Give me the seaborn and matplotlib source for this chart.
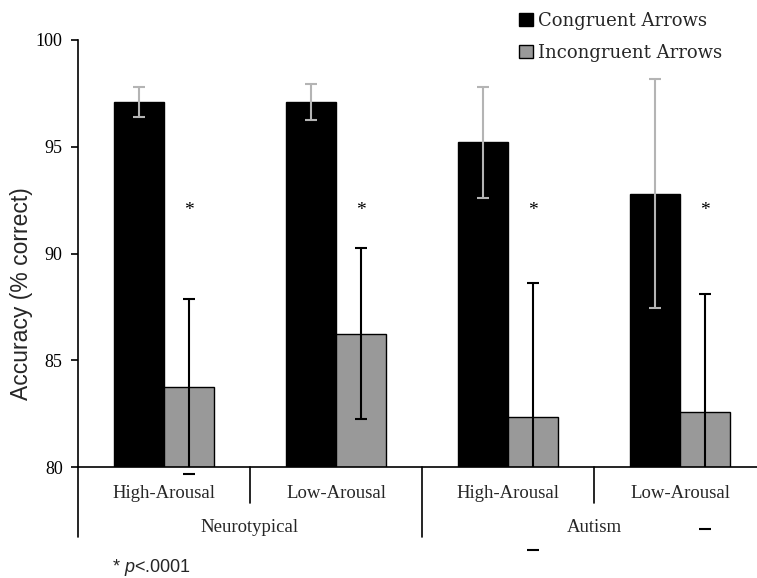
"""Accuracy on the arrow flanker task by group and arousal condition."""

import matplotlib

matplotlib.use("Agg")

import matplotlib.pyplot as plt
import matplotlib.transforms as mtransforms
import pandas as pd
import seaborn as sns
from matplotlib.patches import Patch

# --- data ---
groups = ["Neurotypical", "Neurotypical", "Autism", "Autism"]
arousal = ["High-Arousal", "Low-Arousal", "High-Arousal", "Low-Arousal"]
conditions = ["Congruent Arrows", "Incongruent Arrows"]

congruent_mean = [97.1, 97.1, 95.2, 92.8]
congruent_err = [0.7, 0.85, 2.6, 5.35]
incongruent_mean = [83.75, 86.25, 82.35, 82.6]
incongruent_err = [4.1, 4.0, 6.25, 5.5]

star_level = [92.0, 92.0, 92.0, 92.0]
y_ticks = [80, 85, 90, 95, 100]

bar_colors = ["#000000", "#999999"]
err_colors = ["#b4b4b4", "#000000"]

SERIF = "Liberation Serif"
SANS = "Liberation Sans"


def build_frame() -> pd.DataFrame:
    cells = [f"{g}\n{a}" for g, a in zip(groups, arousal)]
    rows = []
    for cond, means in zip(conditions, [congruent_mean, incongruent_mean]):
        for cell, m in zip(cells, means):
            rows.append({"cell": cell, "arrows": cond, "accuracy": m})
    return pd.DataFrame(rows), cells


def main() -> None:
    sns.set_theme(style="white")
    plt.rcParams.update(
        {
            "font.family": [SERIF, "DejaVu Serif"],
            "mathtext.fontset": "custom",
            "mathtext.it": f"{SANS}:italic",
            "mathtext.rm": SANS,
        }
    )

    df, cells = build_frame()

    fig = plt.figure(figsize=(7.57, 5.78), dpi=100)
    ax = fig.add_axes([0.1030, 0.1920, 0.9089, 0.7388])

    sns.barplot(
        data=df, x="cell", y="accuracy", hue="arrows",
        order=cells, hue_order=conditions, palette=bar_colors,
        width=0.58, errorbar=None, saturation=1,
        edgecolor="black", linewidth=1.0, ax=ax,
    )
    ax.get_legend().remove()

    # error bars on each bar; lines clipped at the axis, caps left visible
    for container, means, errs, ecol in zip(
        ax.containers, [congruent_mean, incongruent_mean],
        [congruent_err, incongruent_err], err_colors,
    ):
        xs = [p.get_x() + p.get_width() / 2 for p in container.patches]
        _, caps, _ = ax.errorbar(
            xs, means, yerr=errs, fmt="none", ecolor=ecol,
            elinewidth=1.5, capsize=4.5, capthick=1.5, zorder=4,
        )
        for cap in caps:
            cap.set_clip_on(False)

    # significance stars above the incongruent bars
    for p, lvl in zip(ax.containers[1].patches, star_level):
        ax.text(p.get_x() + p.get_width() / 2, lvl, "*", ha="center",
                va="center", fontsize=14, color="black")

    ax.set_ylim(y_ticks[0], y_ticks[-1])
    ax.set_xlim(-0.5, len(cells) - 0.5)
    ax.set_yticks(y_ticks)
    ax.set_yticklabels([str(t) for t in y_ticks], fontsize=13)
    ax.set_xticks([])
    ax.set_xlabel("")
    ax.set_ylabel("")
    ax.tick_params(axis="y", direction="out", length=5, width=1.2,
                   pad=6, left=True, colors="black")

    sns.despine(ax=ax, top=True, right=True)
    for side in ["left", "bottom"]:
        ax.spines[side].set_color("black")
        ax.spines[side].set_linewidth(1.2)

    # two-level category axis, Excel style
    trans = mtransforms.blended_transform_factory(ax.transData, ax.transAxes)
    for i, lab in enumerate(arousal):
        ax.text(i, -0.062, lab, transform=trans, ha="center", va="center",
                fontsize=13.5)
    for i in range(len(cells) + 1):
        x = i - 0.5
        if x >= len(cells) - 0.5:
            continue
        depth = -0.164 if i % 2 == 0 else -0.084
        ax.plot([x, x], [0, depth], transform=trans, color="black",
                lw=1.2, clip_on=False)
    for name, center in [("Neurotypical", 0.5), ("Autism", 2.5)]:
        ax.text(center, -0.141, name, transform=trans, ha="center",
                va="center", fontsize=13.5)

    fig.text(22 / 757, 1 - 294 / 578, "Accuracy (% correct)", rotation=90,
             ha="center", va="center", fontsize=16.5, family=SANS)
    fig.text(112 / 757, 1 - 567 / 578, "* $p$<.0001", ha="left",
             va="center", fontsize=13, family=SANS)

    handles = [Patch(facecolor=c, edgecolor="black", lw=1) for c in bar_colors]
    fig.legend(
        handles, conditions, loc="upper left",
        bbox_to_anchor=(519 / 757, 1 - 12 / 578), frameon=False,
        prop={"family": "DejaVu Serif", "size": 13},
        handlelength=0.75, handleheight=0.75, handletextpad=0.3,
        labelspacing=0.78, borderpad=0, borderaxespad=0,
    )

    fig.savefig("out.png", dpi=100)
    plt.close(fig)


if __name__ == "__main__":
    main()
